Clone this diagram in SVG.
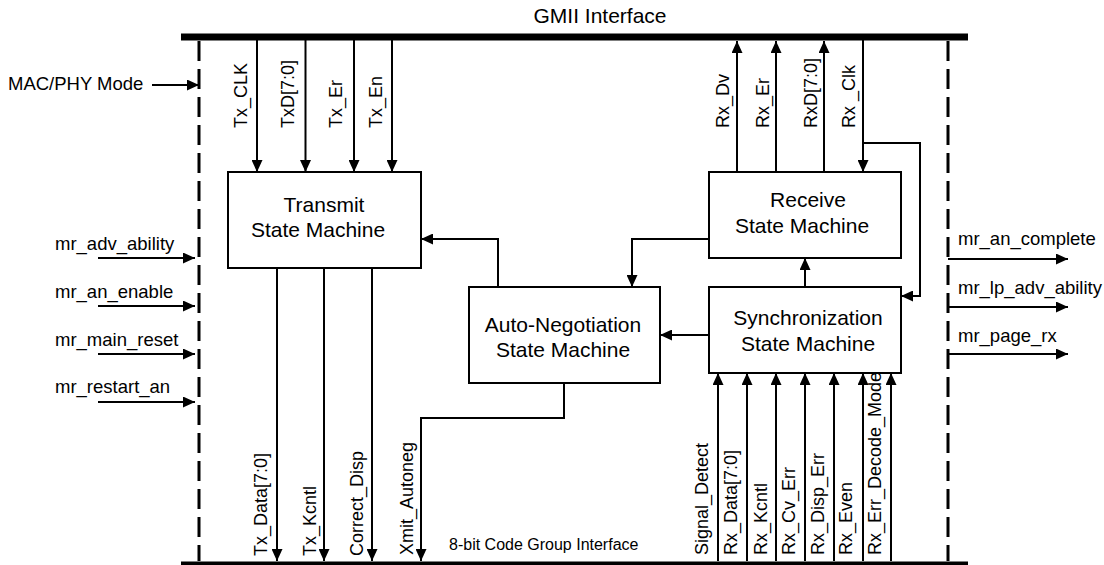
<svg xmlns="http://www.w3.org/2000/svg" width="1104" height="565" viewBox="0 0 1104 565">
<defs>
<marker id="ah" markerUnits="userSpaceOnUse" markerWidth="12" markerHeight="11" refX="12" refY="5.5" orient="auto">
<path d="M0,0 L12,5.5 L0,11 z" fill="#000"/>
</marker>
<style>
.ln{stroke:#000;stroke-width:2;fill:none}
.ar{stroke:#000;stroke-width:2;fill:none;marker-end:url(#ah)}
.box{fill:#fff;stroke:#000;stroke-width:2}
.bus{stroke:#000;stroke-width:7}
.dash{stroke:#000;stroke-width:3;stroke-dasharray:20 8}
text{font-family:"Liberation Sans",Arial,Helvetica,sans-serif;fill:#000}
.lbl{font-size:18.5px}
.vl{font-size:18px}
.bt{font-size:21px;text-anchor:middle}
.ttl{font-size:21px;text-anchor:middle}
.sm{font-size:16px}
</style>
</defs>
<rect width="1104" height="565" fill="#fff"/>

<g id="buses">
<line class="bus" x1="181" y1="37" x2="968" y2="37"/>
<line class="bus" x1="181" y1="565" x2="968" y2="565"/>
<line class="dash" x1="199" y1="41" x2="199" y2="561"/>
<line class="dash" x1="948" y1="41" x2="948" y2="561"/>
<text class="ttl" x="600" y="23">GMII Interface</text>
<text class="sm" x="449" y="550">8-bit Code Group Interface</text>
</g>

<g id="transmit">
<rect class="box" x="228" y="172" width="193" height="96"/>
<text class="bt" x="324" y="212">Transmit</text>
<text class="bt" x="318" y="237">State Machine</text>
</g>
<g id="receive">
<rect class="box" x="709" y="172" width="192" height="86"/>
<text class="bt" x="808" y="207">Receive</text>
<text class="bt" x="802" y="233">State Machine</text>
</g>
<g id="sync">
<rect class="box" x="709" y="287" width="192" height="86"/>
<text class="bt" x="808" y="325">Synchronization</text>
<text class="bt" x="808" y="351">State Machine</text>
</g>
<g id="autoneg">
<rect class="box" x="469" y="287" width="191" height="96"/>
<text class="bt" x="563" y="332">Auto-Negotiation</text>
<text class="bt" x="563" y="357">State Machine</text>
</g>

<g id="connectors">
<!-- Tx from GMII -->
<line class="ar" x1="257" y1="40" x2="257" y2="172"/>
<line class="ar" x1="305.5" y1="40" x2="305.5" y2="172"/>
<line class="ar" x1="354" y1="40" x2="354" y2="172"/>
<line class="ar" x1="392" y1="40" x2="392" y2="172"/>
<!-- Rx to GMII -->
<line class="ar" x1="737" y1="172" x2="737" y2="41"/>
<line class="ar" x1="776" y1="172" x2="776" y2="41"/>
<line class="ar" x1="824" y1="172" x2="824" y2="41"/>
<line class="ar" x1="863" y1="40" x2="863" y2="172"/>
<polyline class="ar" points="863,143 920,143 920,296 901,296"/>
<!-- between state machines -->
<line class="ar" x1="805" y1="287" x2="805" y2="258"/>
<line class="ar" x1="709" y1="335" x2="660" y2="335"/>
<polyline class="ar" points="709,239 632,239 632,287"/>
<polyline class="ar" points="498,287 498,239 421,239"/>
<polyline class="ar" points="564,383 564,418 421,418 421,561"/>
<!-- Tx to code group -->
<line class="ar" x1="277" y1="268" x2="277" y2="561"/>
<line class="ar" x1="324" y1="268" x2="324" y2="561"/>
<line class="ar" x1="372" y1="268" x2="372" y2="561"/>
<!-- code group to sync -->
<line class="ar" x1="718" y1="561" x2="718" y2="373"/>
<line class="ar" x1="747" y1="561" x2="747" y2="373"/>
<line class="ar" x1="776" y1="561" x2="776" y2="373"/>
<line class="ar" x1="805" y1="561" x2="805" y2="373"/>
<line class="ar" x1="834" y1="561" x2="834" y2="373"/>
<line class="ar" x1="863" y1="561" x2="863" y2="373"/>
<line class="ar" x1="891" y1="561" x2="891" y2="373"/>
<!-- side signals -->
<line class="ar" x1="152" y1="85" x2="199" y2="85"/>
<line class="ar" x1="98" y1="258" x2="195" y2="258"/>
<line class="ar" x1="98" y1="306" x2="195" y2="306"/>
<line class="ar" x1="98" y1="354" x2="195" y2="354"/>
<line class="ar" x1="98" y1="402" x2="195" y2="402"/>
<line class="ar" x1="948" y1="259" x2="1068" y2="259"/>
<line class="ar" x1="948" y1="307" x2="1068" y2="307"/>
<line class="ar" x1="948" y1="354" x2="1068" y2="354"/>
</g>

<g id="labels">
<text class="lbl" x="8" y="90">MAC/PHY Mode</text>
<text class="lbl" x="55" y="250">mr_adv_ability</text>
<text class="lbl" x="55" y="298">mr_an_enable</text>
<text class="lbl" x="55" y="346">mr_main_reset</text>
<text class="lbl" x="55" y="393">mr_restart_an</text>
<text class="lbl" x="958" y="245">mr_an_complete</text>
<text class="lbl" x="958" y="294">mr_lp_adv_ability</text>
<text class="lbl" x="958" y="342">mr_page_rx</text>

<text class="vl" transform="translate(247,128) rotate(-90)">Tx_CLK</text>
<text class="vl" transform="translate(294,128) rotate(-90)">TxD[7:0]</text>
<text class="vl" transform="translate(342,128) rotate(-90)">Tx_Er</text>
<text class="vl" transform="translate(382,128) rotate(-90)">Tx_En</text>
<text class="vl" transform="translate(729,128) rotate(-90)">Rx_Dv</text>
<text class="vl" transform="translate(769,128) rotate(-90)">Rx_Er</text>
<text class="vl" transform="translate(817,128) rotate(-90)">RxD[7:0]</text>
<text class="vl" transform="translate(855,128) rotate(-90)">Rx _Clk</text>

<text class="vl" transform="translate(266.5,556) rotate(-90)">Tx_Data[7:0]</text>
<text class="vl" transform="translate(315.5,556) rotate(-90)">Tx_Kcntl</text>
<text class="vl" transform="translate(363,556) rotate(-90)">Correct_Disp</text>
<text class="vl" transform="translate(413,555) rotate(-90)">Xmit_Autoneg</text>
<text class="vl" transform="translate(708,555) rotate(-90)">Signal_Detect</text>
<text class="vl" transform="translate(737,555) rotate(-90)">Rx_Data[7:0]</text>
<text class="vl" transform="translate(766.5,555) rotate(-90)">Rx_Kcntl</text>
<text class="vl" transform="translate(795,555) rotate(-90)">Rx_Cv_Err</text>
<text class="vl" transform="translate(823.5,555) rotate(-90)">Rx_Disp_Err</text>
<text class="vl" transform="translate(852,555) rotate(-90)">Rx_Even</text>
<text class="vl" transform="translate(881,555) rotate(-90)">Rx_Err_Decode_Mode</text>
</g>
</svg>
